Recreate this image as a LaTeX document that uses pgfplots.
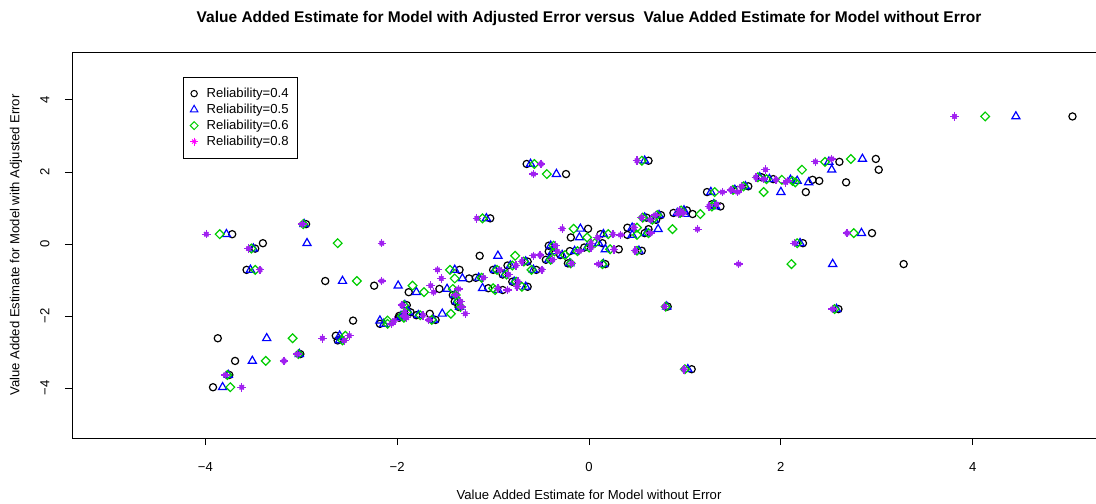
\documentclass[border=0pt]{standalone}
\usepackage{fontspec}
\setmainfont{Liberation Sans}
\usepackage{pgfplots}
\usepackage{pgfplotstable}
\pgfplotsset{compat=1.18}

\definecolor{rcirc}{RGB}{0,0,0}
\definecolor{rtri}{RGB}{0,0,255}
\definecolor{rdia}{RGB}{0,205,0}
\definecolor{rstar}{RGB}{160,32,240}
\definecolor{rleg}{RGB}{255,0,255}

% y: estimate with adjusted error; xc, xt, xd, xs: estimate without error
% for reliability 0.4, 0.5, 0.6 and 0.8
\pgfplotstableread{
y      xc     xt     xd     xs
0.27  -3.72  -3.78  -3.85  -3.99
0.02  -3.40  -2.94  -2.62  -2.16
0.55  -2.95  -2.97  -2.98  -2.99
-0.13 -3.48  -3.50  -3.52  -3.55
-0.72 -3.57  -3.53  -3.48  -3.43
-1.03 -2.75  -2.57  -2.42  -2.16
-1.16 -2.24  -1.99  -1.84  -1.65
-2.62 -3.87  -3.36  -3.09  -2.78
-3.25 -3.69  -3.51  -3.37  -3.18
-3.06 -3.01  -3.02  -3.03  -3.04
-3.64 -3.75  -3.76  -3.77  -3.79
-3.98 -3.92  -3.82  -3.74  -3.62
-2.55 -2.64  -2.60  -2.54  -2.50
-2.68 -2.62  -2.60  -2.57  -2.55
-2.13 -2.46  -2.18  -2.10  -2.03
2.22  -0.65  -0.61  -0.57  -0.50
1.94  -0.24  -0.34  -0.44  -0.58
2.31   0.62   0.58   0.55   0.50
0.71  -1.03  -1.07  -1.11  -1.17
-0.33 -1.14  -0.95  -0.77  -0.58
1.44   2.26   2.00   1.82   1.55
2.36   2.99   2.85   2.73   2.53
2.28   2.61   2.50   2.46   2.36
2.06   3.02   2.53   2.22   1.84
1.71   2.68   2.29   2.15   2.05
3.54   5.04   4.45   4.13   3.81
0.30   2.95   2.84   2.76   2.69
-0.56  3.28   2.54   2.11   1.56
-1.74  0.82   0.81   0.80   0.79
-1.81  2.60   2.58   2.56   2.54
-3.48  1.07   1.03   1.00   0.99
0.02   2.23   2.20   2.17   2.14
-1.94 -1.66  -1.53  -1.44  -1.29
0.42  -0.01  -0.09  -0.16  -0.28
-0.56  0.17   0.15   0.14   0.10
0.41   0.62   0.72   0.87   1.13
-2.22 -2.18  -2.14  -2.10  -2.06
-2.05 -1.98  -1.96  -1.93  -1.90
-1.90 -1.86  -1.88  -1.90  -1.92
-1.70 -1.90  -1.92  -1.93  -1.95
-1.34 -1.88  -1.80  -1.72  -1.62
-1.25 -1.56  -1.48  -1.42  -1.36
-0.96 -1.25  -1.32  -1.40  -1.54
-0.94 -1.18  -1.15  -1.12  -1.10
-1.42 -1.42  -1.40  -1.39  -1.39
-1.60 -1.40  -1.38  -1.36  -1.34
-1.75 -1.36  -1.35  -1.34  -1.33
-1.23 -1.05  -1.11  -1.00  -0.95
-1.28 -0.90  -0.95  -0.98  -0.85
-1.19 -0.64  -0.66  -0.70  -0.75
-0.72 -1.00  -0.98  -0.96  -0.93
-0.85 -0.90  -0.88  -0.86  -0.84
-1.05 -0.80  -0.78  -0.76  -0.74
-0.60 -0.85  -0.82  -0.80  -0.76
-0.49 -0.64  -0.66  -0.68  -0.70
-0.72 -0.55  -0.58  -0.60  -0.49
-0.44 -0.45  -0.42  -0.40  -0.38
-0.21 -0.42  -0.38  -0.36  -0.33
-0.05 -0.42  -0.40  -0.37  -0.35
-0.31 -0.30  -0.28  -0.25  -0.51
-0.20 -0.20  -0.15  -0.12  -0.10
-0.10 -0.05  -0.02   0.00   0.02
0.18  -0.19  -0.10  -0.02   0.09
-0.54 -0.22  -0.20  -0.19  -0.18
0.02   0.14   0.10   0.06   0.02
0.27   0.12   0.15   0.20   0.25
-0.15  0.31   0.17   0.22   0.26
0.45   0.40   0.45   0.50   0.47
0.25   0.40   0.45   0.50   0.33
0.73   0.60   0.58   0.56   0.55
-0.19  0.55   0.52   0.50   0.48
0.30   0.58   0.60   0.62   0.64
0.67   0.70   0.68   0.66   0.64
0.80   0.75   0.73   0.71   0.69
0.86   0.88   0.92   0.95   0.98
0.83   1.08   1.00   1.16   0.93
0.93   1.02   0.99   0.96   0.94
1.04   1.37   1.32   1.28   1.25
1.10   1.28   1.30   1.31   1.33
1.44   1.23   1.27   1.31   1.39
1.60   1.66   1.63   1.61   1.59
1.50   1.55   1.52   1.50   1.48
1.80   1.92   1.88   1.85   1.82
1.85   1.80   1.78   1.76   1.74
1.78   2.33   2.10   2.01   1.95
1.75   2.40   2.17   2.12   2.07
-2.11 -1.60  -1.62  -1.64  -1.67
-0.72 -1.35  -1.40  -1.45  -1.58
-1.98 -1.80  -1.78  -1.76  -1.73
-2.00 -1.98  -1.96  -1.95  -1.93
}\vadata

\begin{document}
\begin{tikzpicture}
\useasboundingbox (0,0) rectangle (1096bp,504bp);
\begin{axis}[
  at={(72bp,66bp)}, anchor=south west,
  scale only axis,
  width=1034bp, height=386bp,
  xmin=-5.39, xmax=5.39,
  ymin=-5.39, ymax=5.33,
  axis line style={black, line width=0.8bp},
  xtick={-4,-2,0,2,4},
  ytick={-4,-2,0,2,4},
  xticklabels={−4,−2,0,2,4},
  yticklabels={−4,−2,0,2,4},
  xtick pos=bottom, ytick pos=left,
  tick align=outside,
  major tick length=7bp,
  tick style={black, line width=0.8bp},
  every tick label/.append style={font=\fontsize{13.1bp}{15bp}\selectfont},
  xticklabel style={yshift=-14bp},
  yticklabel style={rotate=90, anchor=south, yshift=12bp},
  title={Value Added Estimate for Model with Adjusted Error versus\ \ Value Added Estimate for Model without Error},
  title style={font=\bfseries\fontsize{15.5bp}{18bp}\selectfont,
    at={(axis description cs:0.5,1)}, anchor=center, yshift=28bp},
  xlabel={Value Added Estimate for Model without Error},
  xlabel style={font=\fontsize{13.1bp}{15bp}\selectfont,
    at={(axis description cs:0.5,0)}, anchor=center, yshift=-57bp},
  ylabel={Value Added Estimate for Model with Adjusted Error},
  ylabel style={font=\fontsize{13.1bp}{15bp}\selectfont,
    at={(axis description cs:0,0.5)}, anchor=center, yshift=56bp},
  legend style={at={(axis description cs:0.1071,0.936)}, anchor=north west,
    draw=black, line width=0.8bp, fill=white,
    font=\fontsize{13.1bp}{15bp}\selectfont,
    inner xsep=7bp, inner ysep=9bp, row sep=1bp, column sep=7bp,
    nodes={inner sep=1.5bp, text height=9.5bp, text depth=2.5bp}},
  legend cell align=left,
]
\addplot[only marks, mark=o, mark size=3.6bp, draw=rcirc, line width=1.2bp, forget plot]
  table[x=xc, y=y] {\vadata};
\addplot[only marks, mark=triangle, mark size=4.7bp, draw=rtri, line width=1.2bp, forget plot]
  table[x=xt, y=y] {\vadata};
\addplot[only marks, mark=square, mark size=3.1bp, mark options={rotate=45}, draw=rdia, line width=1.2bp, forget plot]
  table[x=xd, y=y] {\vadata};
\addplot[only marks, mark=*, mark size=2.2bp, draw=rstar, fill=rstar!85, line width=0.6bp, forget plot]
  table[x=xs, y=y] {\vadata};
\addplot[only marks, mark=+, mark size=4.3bp, draw=rstar, line width=1.3bp, forget plot]
  table[x=xs, y=y] {\vadata};
\addplot[only marks, mark=x, mark size=3.05bp, draw=rstar, line width=1.3bp, forget plot]
  table[x=xs, y=y] {\vadata};

\addlegendimage{only marks, mark=o, mark size=3.2bp, draw=rcirc, line width=1bp}
\addlegendentry{Reliability=0.4}
\addlegendimage{only marks, mark=triangle, mark size=4.3bp, draw=rtri, line width=1bp}
\addlegendentry{Reliability=0.5}
\addlegendimage{only marks, mark=square, mark size=2.8bp, mark options={rotate=45}, draw=rdia, line width=1bp}
\addlegendentry{Reliability=0.6}
\addlegendimage{legend image code/.code={%
  \draw[rleg, line width=1bp, mark size=4bp] plot[mark=+] coordinates {(0.3cm,0cm)};
  \draw[rleg, line width=1bp, mark size=2.85bp] plot[mark=x] coordinates {(0.3cm,0cm)};}}
\addlegendentry{Reliability=0.8}
\end{axis}
\end{tikzpicture}
\end{document}
